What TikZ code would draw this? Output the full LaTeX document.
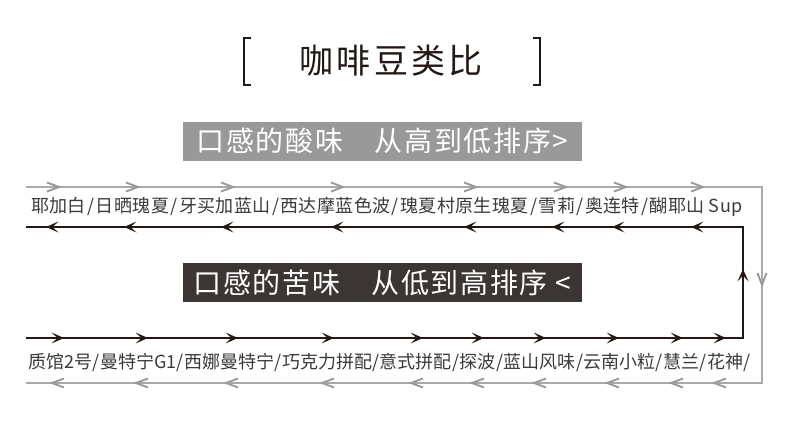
\documentclass[tikz,border=0pt]{standalone}
\usepackage{fontspec}
\setmainfont{Noto Sans CJK SC}
\newfontfamily\rowfont[LetterSpace=2]{Noto Sans CJK SC}
\newfontfamily\rowfontb{Noto Sans CJK SC}
\newfontfamily\boxfont[LetterSpace=6]{Noto Sans CJK SC}
\newfontfamily\titlefont[LetterSpace=9]{Noto Sans CJK SC}
\usetikzlibrary{decorations.markings}
\definecolor{linegray}{HTML}{AAAAAA}
\definecolor{tipgray}{HTML}{999999}
\definecolor{ink}{HTML}{231815}
\definecolor{txt}{HTML}{3A3A3A}
\definecolor{boxgray}{HTML}{999999}
\definecolor{boxdark}{HTML}{3B3634}
\newcommand\slA{\hspace{1.5pt}/\hspace{1.5pt}}
\newcommand\slB{\hspace{0.4pt}/\hspace{0.4pt}}
\newcommand\grayhead{\draw[tipgray, line width=1.9pt] (-12pt,-4.5pt) -- (0pt,0pt) -- (-12pt,4.5pt);}
\newcommand\blackhead{\fill[ink] (-12.5pt,-5.5pt) -- (0pt,0pt) -- (-12.5pt,5.5pt) -- (-6.5pt,0pt) -- cycle;}
\pgfkeys{/pgf/decoration/gm/.style={mark=at position #1 with {\grayhead}},
         /pgf/decoration/bm/.style={mark=at position #1 with {\blackhead}}}
\tikzset{
  rowtext/.style={inner sep=0pt, anchor=west, text=txt, font=\rowfont\fontsize{18}{20}\selectfont},
  bandbox/.style={inner sep=0pt, minimum width=399pt, minimum height=39pt, text=white, font=\boxfont\fontsize{28}{30}\selectfont},
  grayloop/.style={draw=linegray, line width=1.1pt},
  blackloop/.style={draw=ink, line width=1.4pt},
  bracket/.style={draw=ink, line width=2pt},
}
\begin{document}
\begin{tikzpicture}[x=1pt,y=-1pt]
\useasboundingbox (0,0) rectangle (790,439);
% title
\draw[bracket] (251,38) -- (244,38) -- (244,85) -- (251,85);
\draw[bracket] (533,38) -- (540,38) -- (540,85) -- (533,85);
\node[inner sep=0pt, text=ink, font=\titlefont\fontsize{34}{40}\selectfont] (title) at (391,61) {咖啡豆类比};
% bands
\node[bandbox, fill=boxgray] (sour) at (382.5,141) {口感的酸味　从高到低排序>};
\node[bandbox, fill=boxdark] (bitter) at (382.5,282.5) {口感的苦味　从低到高排序 <};
% rows
\node[rowtext] (row1) at (31,207) {耶加白\slA 日晒瑰夏\slA 牙买加蓝山\slA 西达摩蓝色波\slA 瑰夏村原生瑰夏\slA 雪莉\slA 奥连特\slA 醐耶山 Sup};
\node[rowtext, font=\rowfontb\fontsize{18}{20}\selectfont] (row2) at (28,362) {质馆2号\slB 曼特宁G1\slB 西娜曼特宁\slB 巧克力拼配\slB 意式拼配\slB 探波\slB 蓝山风味\slB 云南小粒\slB 慧兰\slB 花神\slB};
% gray loop coordinates
\coordinate (gTL) at (26,187);
\coordinate (gTR) at (762,187);
\coordinate (gBR) at (762,383);
\coordinate (gBL) at (26,383);
% black loop coordinates
\coordinate (bTL) at (26,227);
\coordinate (bTR) at (743,227);
\coordinate (bBR) at (743,338);
\coordinate (bBL) at (26,338);
\path[grayloop, postaction={decorate}, decoration={markings,
  gm=33pt, gm=112pt, gm=207pt, gm=317pt, gm=450pt, gm=540pt, gm=600pt, gm=677pt,
  gm=834pt,
  gm=980pt, gm=1023pt, gm=1087pt, gm=1160pt, gm=1222pt, gm=1283pt, gm=1372pt,
  gm=1468pt, gm=1558pt, gm=1642pt}]
  (gTL) -- (gTR) -- (gBR) -- (gBL);
\path[blackloop, postaction={decorate}, decoration={markings,
  bm=38pt, bm=122pt, bm=212pt, bm=308pt, bm=397pt, bm=458pt, bm=520pt, bm=593pt,
  bm=657pt, bm=700pt,
  bm=786pt,
  bm=880pt, bm=959pt, bm=1019pt, bm=1107pt, bm=1240pt, bm=1350pt, bm=1447pt, bm=1525pt}]
  (bBL) -- (bBR) -- (bTR) -- (bTL);
\end{tikzpicture}
\end{document}
